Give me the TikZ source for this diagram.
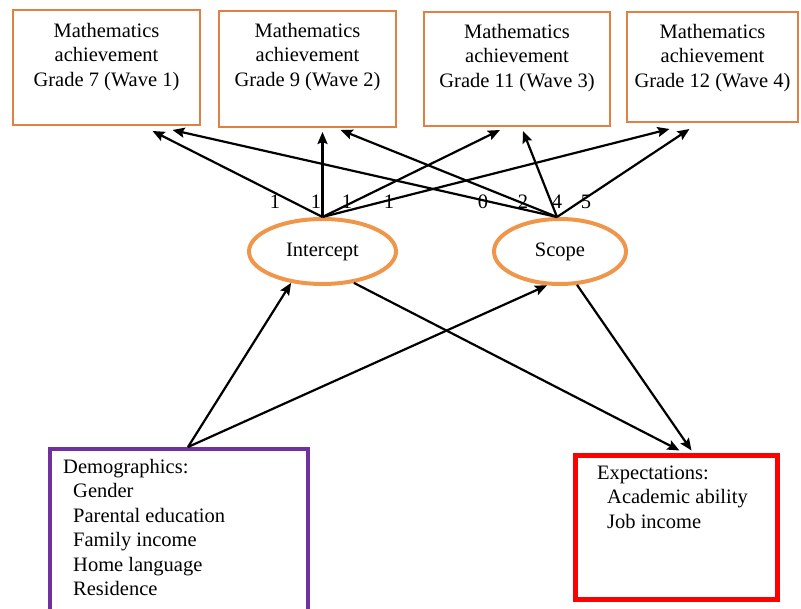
\documentclass[tikz,border=0pt]{standalone}
\usepackage{fontspec}
\setmainfont{Liberation Serif}
\usetikzlibrary{shapes.geometric, arrows.meta}
\definecolor{waveorange}{RGB}{224,128,68}
\definecolor{groworange}{RGB}{240,150,75}
\definecolor{demopurple}{RGB}{112,48,160}
\definecolor{expred}{RGB}{255,0,0}

\begin{document}
\begin{tikzpicture}[x=1pt, y=-1pt,
txt/.style={font=\fontsize{20.5}{24.5}\selectfont, inner sep=0pt},
wavebox/.style={draw=waveorange, line width=2pt, inner sep=0pt},
growth/.style={ellipse, draw=groworange, line width=4pt, inner sep=0pt, minimum height=65pt, txt},
arr/.style={line width=2.2pt, -{Stealth[length=12pt, width=10pt, inset=2pt]}}
]
\useasboundingbox (0,0) rectangle (801,609);

% waves
\node[wavebox, minimum width=187pt, minimum height=115pt] (w1box) at (106.5,67.5) {};
\node[wavebox, minimum width=177pt, minimum height=116pt] (w2box) at (307.5,69) {};
\node[wavebox, minimum width=186pt, minimum height=114pt] (w3box) at (517,69) {};
\node[wavebox, minimum width=171pt, minimum height=110pt] (w4box) at (712.5,67) {};
\node[txt, align=center, anchor=north] (w1) at ([yshift=-14pt]w1box.north) {Mathematics\\achievement\\Grade 7 (Wave 1)};
\node[txt, align=center, anchor=north] (w2) at ([yshift=-13pt]w2box.north) {Mathematics\\achievement\\Grade 9 (Wave 2)};
\node[txt, align=center, anchor=north] (w3) at ([yshift=-13pt]w3box.north) {Mathematics\\achievement\\Grade 11 (Wave 3)};
\node[txt, align=center, anchor=north] (w4) at ([yshift=-13pt]w4box.north) {Mathematics\\achievement\\Grade 12 (Wave 4)};

% growth factors
\node[growth, minimum width=147pt] (ic) at (322.5,251.5) {Intercept};
\node[growth, minimum width=132pt] (sc) at (560,251.5) {Scope};

% covariates and outcomes
\node[draw=demopurple, line width=4pt, minimum width=258pt, minimum height=176pt] (dm) at (179,537) {};
\node[txt, align=left, anchor=north west] (dmtext) at ([xshift=15pt, yshift=-12pt]dm.north west)
  {Demographics:\\\hspace*{10pt}Gender\\\hspace*{10pt}Parental education\\\hspace*{10pt}Family income\\\hspace*{10pt}Home language\\\hspace*{10pt}Residence};
\node[draw=expred, line width=5pt, minimum width=202pt, minimum height=143.5pt] (ex) at (676.5,527.75) {};
\node[txt, align=left, anchor=north west] (extext) at ([xshift=24pt, yshift=-12pt]ex.north west)
  {Expectations:\\\hspace*{10pt}Academic ability\\\hspace*{10pt}Job income};

% loadings
\draw[arr] (ic.north) -- ([xshift=46pt, yshift=-5pt]w1box.south);
\draw[arr] (ic.north) -- ([xshift=15pt, yshift=-4pt]w2box.south);
\draw[arr] (ic.north) -- ([xshift=-17pt, yshift=-3pt]w3box.south);
\draw[arr] (ic.north) -- ([xshift=-43pt, yshift=-6pt]w4box.south);
\draw[arr] ([xshift=-3pt]sc.north) -- ([xshift=66pt, yshift=-4pt]w1box.south);
\draw[arr] ([xshift=-3pt]sc.north) -- ([xshift=33pt, yshift=-2pt]w2box.south);
\draw[arr] ([xshift=-3pt]sc.north) -- ([xshift=6pt, yshift=-4pt]w3box.south);
\draw[arr] ([xshift=-3pt]sc.north) -- ([xshift=-23pt, yshift=-6pt]w4box.south);

\foreach \x/\w [count=\i] in {275/1, 316/1, 347/1, 389/1, 483/0, 523/2, 557/4, 586/5}
  \node[txt] (wt\i) at (\x,202) {\w};

% predictors
\draw[arr] ([xshift=9pt]dm.north) -- (ic.225);
\draw[arr] ([xshift=9pt]dm.north) -- (sc.249);
\draw[arr] (ic.315) -- ([xshift=3pt, yshift=3pt]ex.north);
\draw[arr] (sc.297) -- ([xshift=15pt, yshift=3pt]ex.north);

\end{tikzpicture}
\end{document}
